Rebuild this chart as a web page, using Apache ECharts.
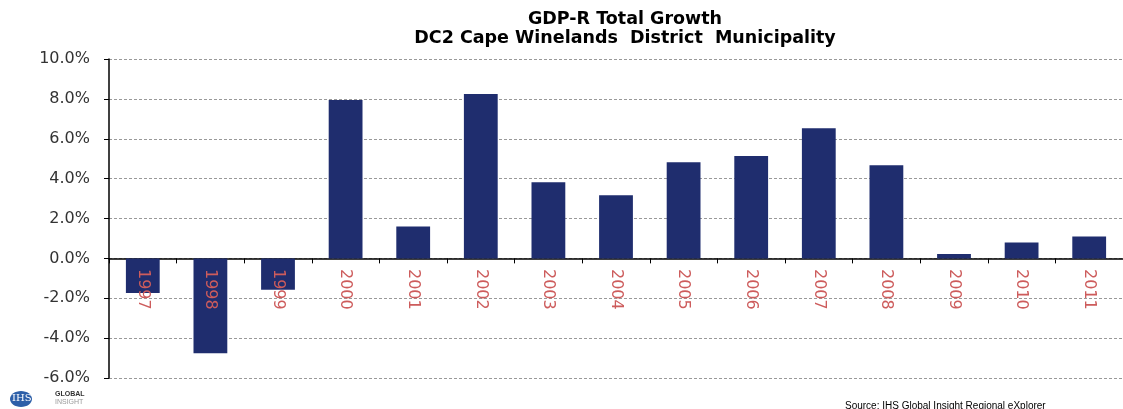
<!DOCTYPE html>
<html>
<head>
<meta charset="utf-8">
<script src="https://cdn.jsdelivr.net/npm/echarts@6/dist/echarts.min.js"></script>
<style>
  html, body { margin: 0; padding: 0; background: #fff; }
  #chart { width: 1123px; height: 409px; }
</style>
</head>
<body>
<div id="chart"></div>
<script>
const years = ['1997', '1998', '1999', '2000', '2001', '2002', '2003', '2004',
  '2005', '2006', '2007', '2008', '2009', '2010', '2011']
const growth = [-1.74, -4.76, -1.57, 7.94, 1.6, 8.24, 3.82, 3.17,
  4.82, 5.13, 6.53, 4.67, 0.22, 0.79, 1.1]

const chart = echarts.init(document.getElementById('chart'))
chart.setOption({
  animation: false,
  textStyle: { fontFamily: 'DejaVu Sans' },
  title: {
    text: 'GDP-R Total Growth\nDC2 Cape Winelands  District  Municipality',
    left: 620,
    textAlign: 'center',
    top: 5,
    textStyle: { fontSize: 17.5, fontWeight: 'bold', color: '#000', lineHeight: 19, fontFamily: 'DejaVu Sans' }
  },
  grid: { left: 109, right: 0, top: 59, bottom: 31 },
  xAxis: [{
    type: 'category',
    data: years,
    axisLine: { onZero: true, lineStyle: { color: '#000', width: 1.5 } },
    axisTick: { show: true, length: 5, lineStyle: { color: '#000' } },
    axisLabel: { show: false }
  }, {
    // label row sitting just under the zero line, drawn over the bars
    type: 'category',
    data: years,
    position: 'bottom',
    offset: -120,
    z: 10,
    axisLine: { show: false },
    axisTick: { show: false },
    axisLabel: { rotate: -90, color: '#cd5c5c', fontSize: 16, margin: 11 }
  }],
  yAxis: {
    type: 'value',
    min: -6,
    max: 10,
    interval: 2,
    axisLine: { show: true, lineStyle: { color: '#000', width: 1.5 } },
    axisTick: { show: true, length: 5, lineStyle: { color: '#000' } },
    axisLabel: { color: '#333', fontSize: 16, margin: 19, formatter: v => v.toFixed(1) + '%' },
    splitLine: { lineStyle: { type: [3, 2], color: '#999' } }
  },
  series: [{
    type: 'bar',
    xAxisIndex: 0,
    data: growth,
    barWidth: '50%',
    itemStyle: { color: '#1f2d6e' }
  }],
  graphic: [
    { type: 'ellipse', shape: { cx: 21, cy: 399, rx: 11, ry: 8 }, style: { fill: '#2d5fa8' } },
    { type: 'text', left: 12, top: 393, style: { text: 'IHS', fill: '#fff', fontSize: 10, fontFamily: 'DejaVu Serif' } },
    { type: 'text', left: 55, top: 391, style: { text: 'GLOBAL', fill: '#333', fontSize: 7, fontWeight: 'bold' } },
    { type: 'text', left: 55, top: 399, style: { text: 'INSIGHT', fill: '#999', fontSize: 7 } },
    { type: 'text', left: 845, top: 401, style: { text: 'Source: IHS Global Insight Regional eXplorer', fill: '#000', fontSize: 10, fontFamily: 'Liberation Sans' } }
  ]
})
</script>
</body>
</html>
